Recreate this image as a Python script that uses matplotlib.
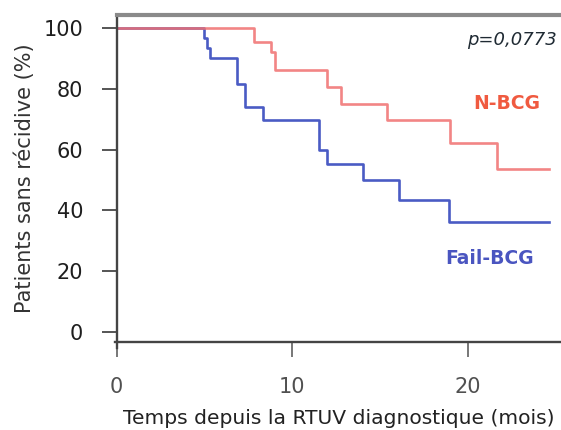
import numpy as np
import matplotlib
matplotlib.use("Agg")
import matplotlib.pyplot as plt

# Kaplan-Meier style step data (time in months, % free of recurrence)
fail_t = [0, 5.0, 5.15, 5.3, 6.85, 7.3, 8.35, 11.5, 12.0, 14.05, 16.1, 18.95, 24.6]
fail_s = [100, 96.7, 93.3, 90.0, 81.7, 74.0, 69.7, 60.0, 55.3, 50.0, 43.4, 36.3, 36.3]

nbcg_t = [0, 7.8, 8.8, 9.0, 12.0, 12.8, 15.4, 19.0, 21.65, 24.6]
nbcg_s = [100, 95.5, 92.0, 86.2, 80.4, 75.0, 69.7, 62.0, 53.5, 53.5]

yticks = [0, 20, 40, 60, 80, 100]
xticks = [0, 10, 20]

fail_col = "#4a5bc4"
nbcg_col = "#f07070"

fig = plt.figure(figsize=(5.61, 4.30), dpi=100)
ax = fig.add_axes([0.208, 0.205, 0.792, 0.76])

ax.step(fail_t, fail_s, where="post", color=fail_col, lw=1.9)
ax.step(nbcg_t, nbcg_s, where="post", color=nbcg_col, lw=1.9, alpha=0.85)

ax.set_xlim(0, 25.3)
ax.set_ylim(-3.2, 104.2)
ax.set_yticks(yticks)
ax.set_xticks(xticks)

for s in ["left", "bottom"]:
    ax.spines[s].set_color("#444444")
    ax.spines[s].set_linewidth(1.7)
ax.spines["left"].set_bounds(-5.2, 104.2)
ax.spines["bottom"].set_bounds(-0.12, 25.3)
ax.spines["top"].set_color("#8a8a8a")
ax.spines["top"].set_linewidth(3)
ax.spines["right"].set_visible(False)

ax.tick_params(axis="y", direction="out", length=11, width=1.4, color="#555555",
               pad=13, labelsize=15, labelcolor="#1e1e1e")
ax.tick_params(axis="x", direction="out", length=11, width=1.4, color="#777777",
               pad=14, labelsize=15, labelcolor="#505050")

ax.set_ylabel("Patients sans récidive (%)", fontsize=15, color="#333333", labelpad=6)
ax.set_xlabel("Temps depuis la RTUV diagnostique (mois)", fontsize=14.6,
              color="#222222", labelpad=9)

ax.text(0.99, 0.925, "p=0,0773", transform=ax.transAxes, ha="right", va="center",
        fontsize=13, style="italic", color="#1f2a33")
ax.text(0.877, 0.73, "N-BCG", transform=ax.transAxes, ha="center", va="center",
        fontsize=13.5, fontweight="bold", color="#f05a40")
ax.text(0.84, 0.255, "Fail-BCG", transform=ax.transAxes, ha="center", va="center",
        fontsize=13.5, fontweight="bold", color="#4a55c0")

fig.savefig("out.png", dpi=100)
